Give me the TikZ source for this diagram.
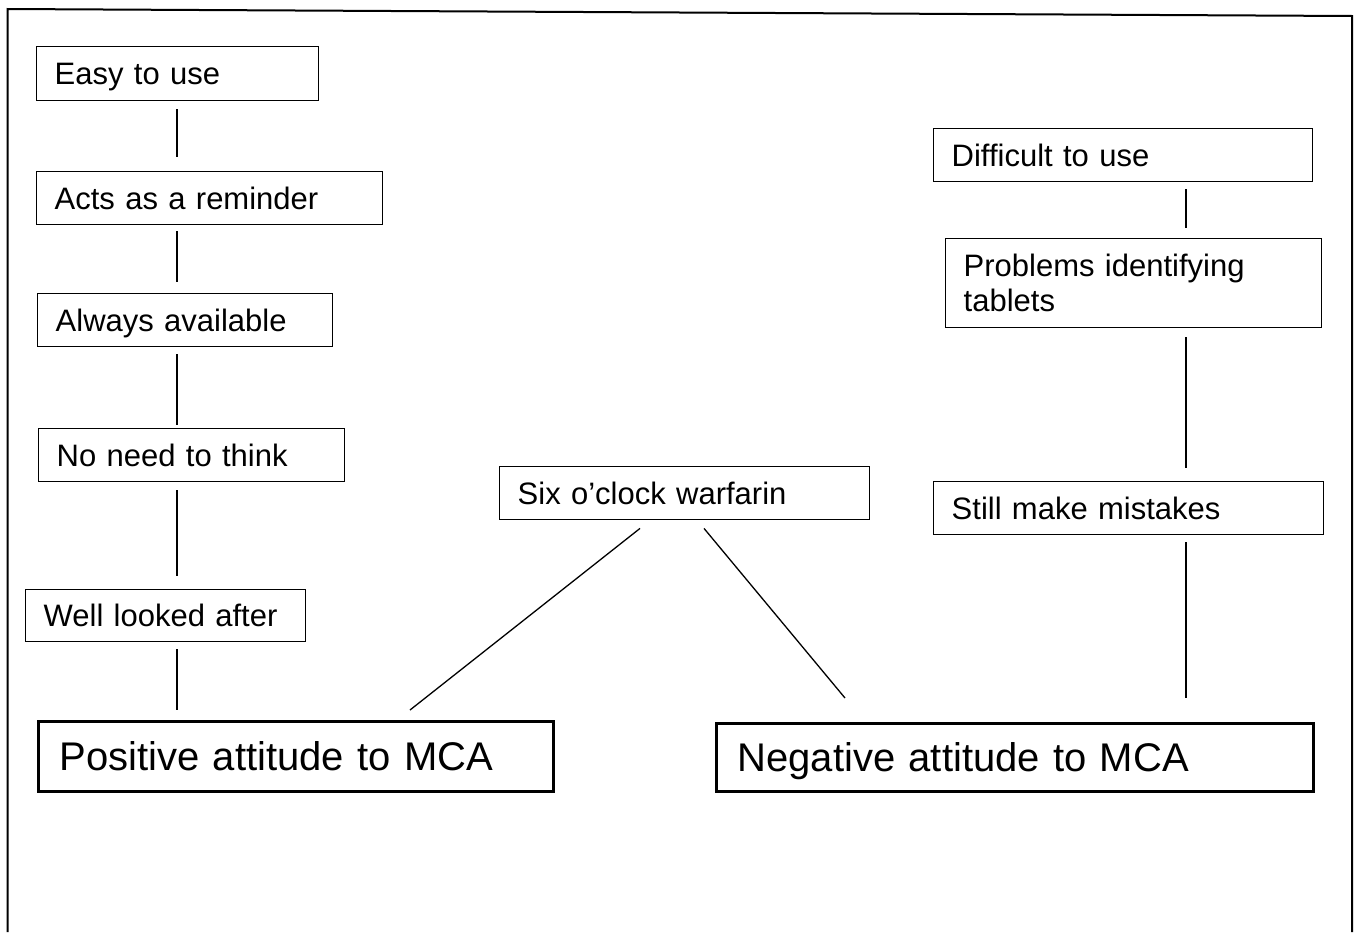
\documentclass[tikz,border=0pt]{standalone}
\usepackage{fontspec}
\setmainfont{Liberation Sans}
\usetikzlibrary{calc}
\begin{document}
\begin{tikzpicture}[x=1pt,y=-1pt,
  item/.style={draw, line width=1.4pt, rectangle, align=left, anchor=north west,
    inner xsep=18pt, inner ysep=0pt, font=\fontsize{31}{35}\selectfont,
    text height=22pt, text depth=0pt},
  twoline/.style={text height={}, text depth={}},
  attitude/.style={draw, line width=3pt, rectangle, align=left, anchor=north west,
    inner xsep=21pt, inner ysep=0pt, font=\fontsize{40}{46}\selectfont,
    text height=28.6pt, text depth=0pt},
  link/.style={line width=1.3pt}]
  \useasboundingbox (0,0) rectangle (1354,932);
  % page frame
  \draw[line width=2pt] (7.5,932) -- (7.5,9) -- (1352,16) -- (1352,932);

  % positive column
  \node[item, text width=246pt, minimum height=54pt] (easy) at (36,46) {Easy to use};
  \node[item, text width=310pt, minimum height=53pt] (acts) at (36,171) {Acts as a reminder};
  \node[item, text width=259pt, minimum height=53pt] (avail) at (37,293) {Always available};
  \node[item, text width=270pt, minimum height=53pt] (think) at (38,428) {No need to think};
  \node[item, text width=244pt, minimum height=52pt] (cared) at (25,589) {Well looked after};
  \node[attitude, text width=473pt, minimum height=70pt] (pos) at (37,720) {Positive attitude to MCA};

  % middle
  \node[item, text width=334pt, minimum height=53pt] (six) at (499,466) {Six o'clock warfarin};

  % negative column
  \node[item, text width=343pt, minimum height=53pt] (hard) at (933,128) {Difficult to use};
  \node[item, twoline, text width=340pt, minimum height=89pt] (ident) at (945,238) {Problems identifying\\tablets};
  \node[item, text width=354pt, minimum height=53pt] (mist) at (933,481) {Still make mistakes};
  \node[attitude, text width=555pt, minimum height=68pt] (neg) at (715,722) {Negative attitude to MCA};

  \coordinate (lx) at (177,0);
  \coordinate (rx) at (1186,0);

  \draw[link] ($(easy.south -| lx)+(0,8)$) -- ($(acts.north -| lx)+(0,-14)$);
  \draw[link] ($(acts.south -| lx)+(0,6)$) -- ($(avail.north -| lx)+(0,-11)$);
  \draw[link] ($(avail.south -| lx)+(0,7)$) -- ($(think.north -| lx)+(0,-3)$);
  \draw[link] ($(think.south -| lx)+(0,8)$) -- ($(cared.north -| lx)+(0,-13)$);
  \draw[link] ($(cared.south -| lx)+(0,7)$) -- ($(pos.north -| lx)+(0,-10)$);

  \draw[link] ($(six.south west)+(141,8)$) -- ($(pos.north west)+(373,-10)$);
  \draw[link] ($(six.south west)+(205,8)$) -- ($(neg.north west)+(130,-24)$);

  \draw[link] ($(hard.south -| rx)+(0,7)$) -- ($(ident.north -| rx)+(0,-10)$);
  \draw[link] ($(ident.south -| rx)+(0,9)$) -- ($(mist.north -| rx)+(0,-13)$);
  \draw[link] ($(mist.south -| rx)+(0,7)$) -- ($(neg.north -| rx)+(0,-24)$);
\end{tikzpicture}
\end{document}
